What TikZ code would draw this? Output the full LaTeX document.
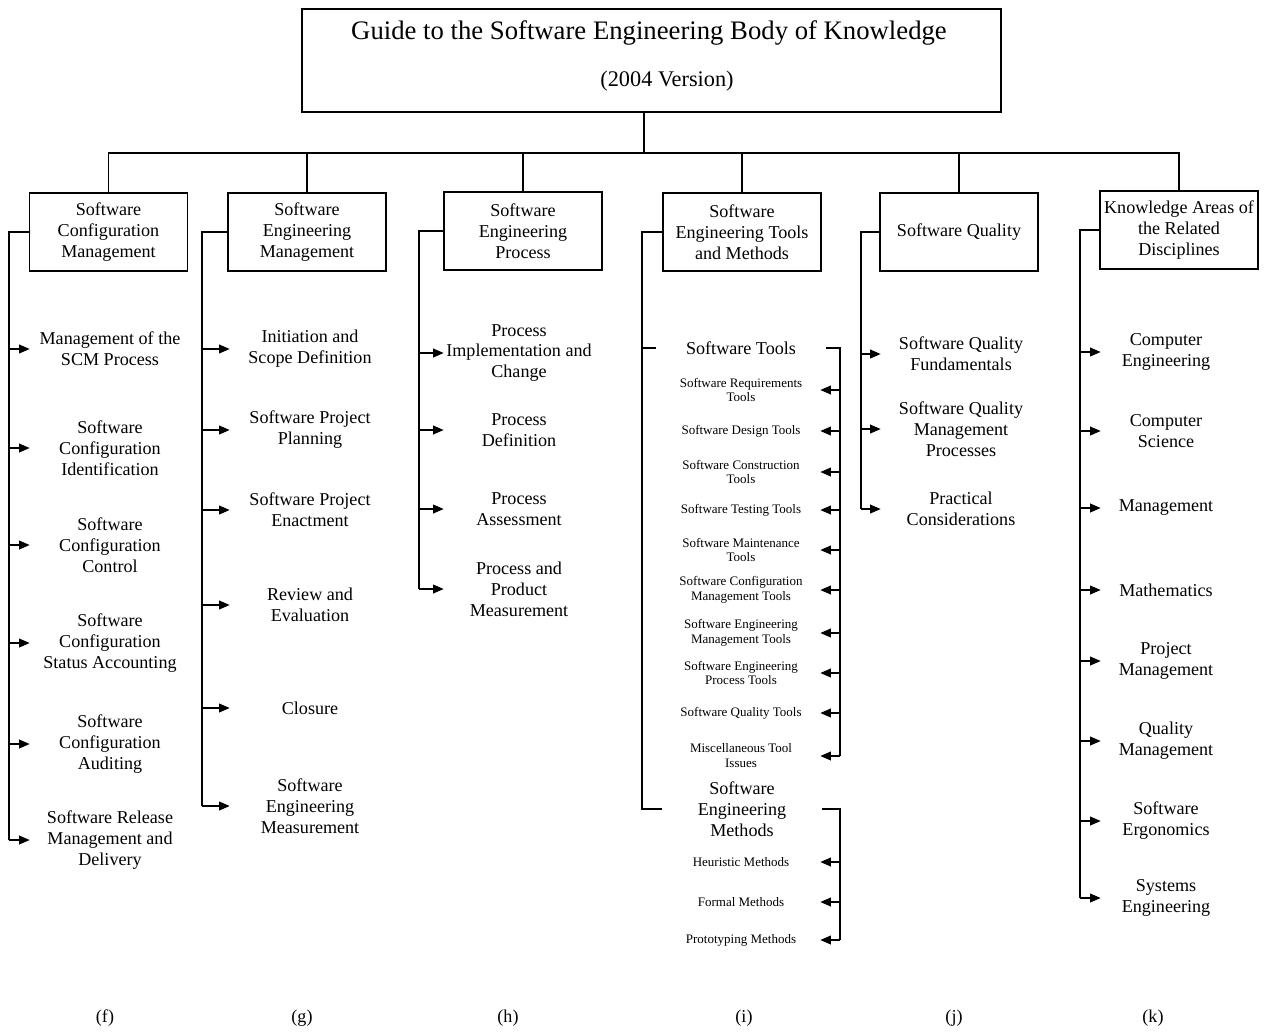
\documentclass[tikz,border=0pt]{standalone}
\usepackage{fontspec}
\setmainfont{Liberation Serif}
\usetikzlibrary{arrows.meta}
\newcommand{\kasize}{\fontsize{10.3}{11.9}\selectfont}
\newcommand{\toolsize}{\fontsize{7.4}{8.5}\selectfont}

\tikzset{
  kabox/.style={draw, line width=0.9pt, minimum width=3.16cm, minimum height=1.56cm, align=center, inner sep=0pt, font=\kasize},
  topic/.style={minimum width=3.2cm, align=center, inner xsep=0pt, inner ysep=1pt, font=\kasize},
  tool/.style={minimum width=3.16cm, align=center, inner xsep=0pt, inner ysep=1pt, font=\toolsize},
  conn/.style={line width=0.7pt},
  arr/.style={conn, -{Triangle[length=6pt,width=5pt]}},
}

\begin{document}
\begin{tikzpicture}[x=0.02cm, y=-0.02cm]
    \useasboundingbox (0,0) rectangle (1270,1032);

    % root
    \node[draw, line width=0.9pt, minimum width=13.98cm, minimum height=2.06cm, inner sep=0pt] (guide) at (651.5,60.5) {};
    \node[font=\fontsize{15.2}{18}\selectfont] (title) at (649,33) {Guide to the Software Engineering Body of Knowledge};
    \node[font=\fontsize{12.7}{15}\selectfont] (version) at (667,81) {(2004 Version)};

    % knowledge areas
    \node[kabox] (scm) at (108.5,232) {Software\\Configuration\\Management};
    \node[kabox] (sem) at (307,232) {Software\\Engineering\\Management};
    \node[kabox] (sep) at (523,231) {Software\\Engineering\\Process};
    \node[kabox] (setm) at (742,232) {Software\\Engineering Tools\\and Methods};
    \node[kabox] (sq) at (959,232) {Software Quality};
    \node[kabox] (krd) at (1179,230) {Knowledge Areas of\\the Related\\Disciplines};

    \coordinate (bus) at (644,153);
    \draw[conn] (guide.south -| bus) -- (bus);
    \draw[conn] (scm.north) |- (bus) -| (krd.north);
    \draw[conn] (sem.north) -- (sem.north |- bus);
    \draw[conn] (sep.north) -- (sep.north |- bus);
    \draw[conn] (setm.north) -- (setm.north |- bus);
    \draw[conn] (sq.north) -- (sq.north |- bus);

    % (f) configuration management
    \node[topic] (scm1) at (110,349) {Management of the\\SCM Process};
    \node[topic] (scm2) at (110,448) {Software\\Configuration\\Identification};
    \node[topic] (scm3) at (110,545) {Software\\Configuration\\Control};
    \node[topic] (scm4) at (110,643) {Software\\Configuration\\Status Accounting};
    \node[topic] (scm5) at (110,744) {Software\\Configuration\\Auditing};
    \node[topic] (scm6) at (110,840) {Software Release\\Management and\\Delivery};
    \coordinate (fend) at (9,840);
    \draw[conn] (scm.west) -| (fend);
    \draw[arr] (scm1.west -| fend) -- (scm1.west);
    \draw[arr] (scm2.west -| fend) -- (scm2.west);
    \draw[arr] (scm3.west -| fend) -- (scm3.west);
    \draw[arr] (scm4.west -| fend) -- (scm4.west);
    \draw[arr] (scm5.west -| fend) -- (scm5.west);
    \draw[arr] (scm6.west -| fend) -- (scm6.west);

    % (g) engineering management
    \node[topic] (sem1) at (310,349) {Initiation and\\Scope Definition};
    \node[topic] (sem2) at (310,430) {Software Project\\Planning};
    \node[topic] (sem3) at (310,510) {Software Project\\Enactment};
    \node[topic] (sem4) at (310,605) {Review and\\Evaluation};
    \node[topic] (sem5) at (310,708) {Closure};
    \node[topic] (sem6) at (310,806) {Software\\Engineering\\Measurement};
    \coordinate (gend) at (202,806);
    \draw[conn] (sem.west) -| (gend);
    \draw[arr] (sem1.west -| gend) -- (sem1.west);
    \draw[arr] (sem2.west -| gend) -- (sem2.west);
    \draw[arr] (sem3.west -| gend) -- (sem3.west);
    \draw[arr] (sem4.west -| gend) -- (sem4.west);
    \draw[arr] (sem5.west -| gend) -- (sem5.west);
    \draw[arr] (sem6.west -| gend) -- (sem6.west);

    % (h) engineering process
    \node[topic, minimum width=3cm] (sep1) at (519,353) {Process\\Implementation and\\Change};
    \node[topic, minimum width=3cm] (sep2) at (519,430) {Process\\Definition};
    \node[topic, minimum width=3cm] (sep3) at (519,509) {Process\\Assessment};
    \node[topic, minimum width=3cm] (sep4) at (519,589) {Process and\\Product\\Measurement};
    \coordinate (hend) at (419,589);
    \draw[conn] (sep.west) -| (hend);
    \draw[arr] (sep1.west -| hend) -- (sep1.west);
    \draw[arr] (sep2.west -| hend) -- (sep2.west);
    \draw[arr] (sep3.west -| hend) -- (sep3.west);
    \draw[arr] (sep4.west -| hend) -- (sep4.west);

    % (i) tools and methods
    \node[topic, minimum width=3.4cm] (tools) at (741,348) {Software Tools};
    \node[tool] (tool1) at (741,390) {Software Requirements\\Tools};
    \node[tool] (tool2) at (741,431) {Software Design Tools};
    \node[tool] (tool3) at (741,472) {Software Construction\\Tools};
    \node[tool] (tool4) at (741,510) {Software Testing Tools};
    \node[tool] (tool5) at (741,550) {Software Maintenance\\Tools};
    \node[tool] (tool6) at (741,590) {Software Configuration\\Management Tools};
    \node[tool] (tool7) at (741,633) {Software Engineering\\Management Tools};
    \node[tool] (tool8) at (741,673) {Software Engineering\\Process Tools};
    \node[tool] (tool9) at (741,713) {Software Quality Tools};
    \node[tool] (tool10) at (741,756) {Miscellaneous Tool\\Issues};
    \node[topic, minimum width=3.18cm] (methods) at (742,809) {Software\\Engineering\\Methods};
    \node[tool] (meth1) at (741,862) {Heuristic Methods};
    \node[tool] (meth2) at (741,902) {Formal Methods};
    \node[tool] (meth3) at (741,940) {Prototyping Methods};
    \coordinate (iend) at (642,809);
    \coordinate (tend) at (840,756);
    \coordinate (mend) at (840,940);
    \draw[conn] (setm.west) -| (iend) -- (methods.west);
    \draw[conn] (tools.west -| iend) -- (tools.west);
    \draw[conn] (tools.east) -| (tend);
    \draw[conn] (methods.east) -| (mend);
    \draw[arr] (tool1.east -| tend) -- (tool1.east);
    \draw[arr] (tool2.east -| tend) -- (tool2.east);
    \draw[arr] (tool3.east -| tend) -- (tool3.east);
    \draw[arr] (tool4.east -| tend) -- (tool4.east);
    \draw[arr] (tool5.east -| tend) -- (tool5.east);
    \draw[arr] (tool6.east -| tend) -- (tool6.east);
    \draw[arr] (tool7.east -| tend) -- (tool7.east);
    \draw[arr] (tool8.east -| tend) -- (tool8.east);
    \draw[arr] (tool9.east -| tend) -- (tool9.east);
    \draw[arr] (tool10.east -| tend) -- (tool10.east);
    \draw[arr] (meth1.east -| mend) -- (meth1.east);
    \draw[arr] (meth2.east -| mend) -- (meth2.east);
    \draw[arr] (meth3.east -| mend) -- (meth3.east);

    % (j) quality
    \node[topic] (sq1) at (961,354) {Software Quality\\Fundamentals};
    \node[topic] (sq2) at (961,429) {Software Quality\\Management\\Processes};
    \node[topic] (sq3) at (961,509) {Practical\\Considerations};
    \coordinate (jend) at (861,509);
    \draw[conn] (sq.west) -| (jend);
    \draw[arr] (sq1.west -| jend) -- (sq1.west);
    \draw[arr] (sq2.west -| jend) -- (sq2.west);
    \draw[arr] (sq3.west -| jend) -- (sq3.west);

    % (k) related disciplines
    \node[topic, minimum width=2.6cm] (krd1) at (1166,352) {Computer\\Engineering};
    \node[topic, minimum width=2.6cm] (krd2) at (1166,431) {Computer\\Science};
    \node[topic, minimum width=2.6cm] (krd3) at (1166,508) {Management};
    \node[topic, minimum width=2.6cm] (krd4) at (1166,590) {Mathematics};
    \node[topic, minimum width=2.6cm] (krd5) at (1166,661) {Project\\Management};
    \node[topic, minimum width=2.6cm] (krd6) at (1166,741) {Quality\\Management};
    \node[topic, minimum width=2.6cm] (krd7) at (1166,821) {Software\\Ergonomics};
    \node[topic, minimum width=2.6cm] (krd8) at (1166,898) {Systems\\Engineering};
    \coordinate (kend) at (1080,898);
    \draw[conn] (krd.west) -| (kend);
    \draw[arr] (krd1.west -| kend) -- (krd1.west);
    \draw[arr] (krd2.west -| kend) -- (krd2.west);
    \draw[arr] (krd3.west -| kend) -- (krd3.west);
    \draw[arr] (krd4.west -| kend) -- (krd4.west);
    \draw[arr] (krd5.west -| kend) -- (krd5.west);
    \draw[arr] (krd6.west -| kend) -- (krd6.west);
    \draw[arr] (krd7.west -| kend) -- (krd7.west);
    \draw[arr] (krd8.west -| kend) -- (krd8.west);

    % panel letters
    \node[font=\kasize] (lf) at (105,1018) {(f)};
    \node[font=\kasize] (lg) at (302,1018) {(g)};
    \node[font=\kasize] (lh) at (508,1018) {(h)};
    \node[font=\kasize] (li) at (744,1018) {(i)};
    \node[font=\kasize] (lj) at (954,1018) {(j)};
    \node[font=\kasize] (lk) at (1153,1018) {(k)};
\end{tikzpicture}
\end{document}
